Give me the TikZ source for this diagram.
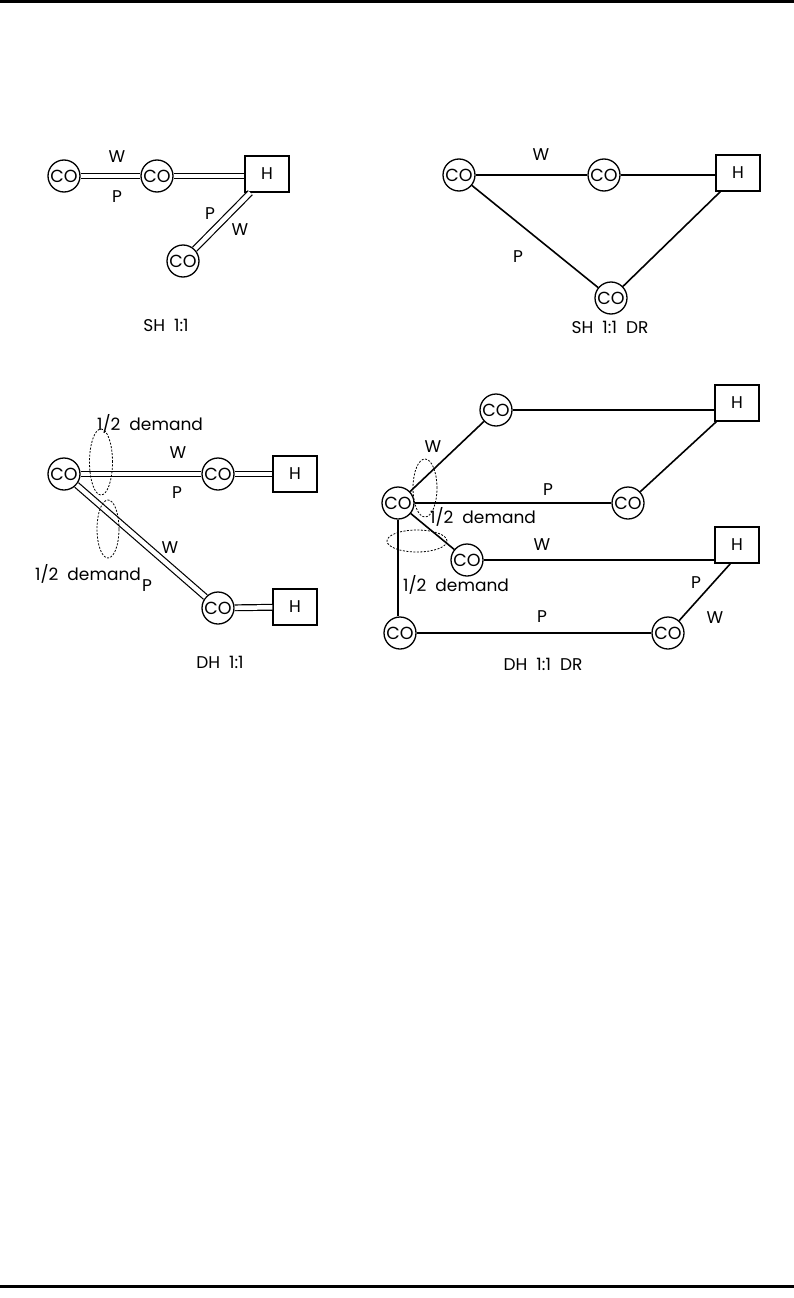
\documentclass[tikz,border=0pt]{standalone}
\usepackage{fontspec}
\setmainfont{Poppins}
\usetikzlibrary{positioning}
\newcommand{\diagfont}{\fontsize{17}{17}\selectfont}
\tikzset{
  co/.style={circle, draw, line width=1.3pt, minimum size=32pt, inner sep=0pt, font=\fontsize{17.5}{17.5}\selectfont},
  hub/.style={rectangle, draw, line width=1.3pt, minimum width=44pt, minimum height=36pt, font=\diagfont},
  dbl/.style={double, double distance=4.5pt, line width=1.2pt},
  sgl/.style={line width=1.6pt},
  demand/.style={line width=0.8pt, dash pattern=on 2pt off 1.5pt},
  lbl/.style={font=\diagfont, inner sep=1pt},
  captext/.style={font=\diagfont},
  rulebar/.style={line width=3pt}
}
\begin{document}
\begin{tikzpicture}[x=1pt, y=-1pt]
  \useasboundingbox (0,0) rectangle (794,1298);
  \draw[rulebar] (0,1.5) -- (794,1.5);
  \draw[rulebar] (0,1286.5) -- (794,1286.5);
  % SH 1:1
  \node[co] (sa1) at (64,176) {CO};
  \node[co] (sa2) at (157,176) {CO};
  \node[hub] (sah) at (267,174) {H};
  \node[co] (sa3) at (183,261) {CO};
  \draw[dbl] (sa1) -- (sa2);
  \draw[dbl] (sa2) -- (sa2 -| sah.west);
  \draw[dbl] (sa3) -- ([xshift=6pt]sah.south west);
  \node[lbl] (saw1) at (117,157) {W};
  \node[lbl] (sap1) at (117,197) {P};
  \node[lbl] (sap2) at (210,214) {P};
  \node[lbl] (saw2) at (240,230) {W};
  \node[captext] (sacap) at (166,325) {SH\ \ 1:1};
  % SH 1:1 DR
  \node[co] (sb1) at (459,175) {CO};
  \node[co] (sb2) at (604,175) {CO};
  \node[hub] (sbh) at (738,173) {H};
  \node[co] (sb3) at (611,298) {CO};
  \draw[sgl] (sb1) -- (sb2);
  \draw[sgl] (sb2) -- (sb2 -| sbh.west);
  \draw[sgl] (sb1) -- (sb3);
  \draw[sgl] (sb3) -- ([xshift=5pt]sbh.south west);
  \node[lbl] (sbw) at (541,155) {W};
  \node[lbl] (sbp) at (518,257) {P};
  \node[captext] (sbcap) at (610,327) {SH\ \ 1:1\ \ DR};
  % DH 1:1
  \node[co] (da1) at (64,474) {CO};
  \node[co] (da2) at (218,474) {CO};
  \node[hub] (dah1) at (295,474) {H};
  \node[co] (da3) at (218,608) {CO};
  \node[hub] (dah2) at (295,607) {H};
  \draw[dbl] (da1) -- (da2);
  \draw[dbl] (da2) -- (dah1);
  \draw[dbl] (da1) -- (da3);
  \draw[dbl] (da3) -- (dah2);
  \draw[demand] (101,462) ellipse [x radius=11.5pt, y radius=33pt];
  \draw[demand] (108,529) ellipse [x radius=11pt, y radius=29pt];
  \node[lbl] (dad1) at (150,424) {1/2\ \ demand};
  \node[lbl] (daw1) at (178,453) {W};
  \node[lbl] (dap1) at (177,493) {P};
  \node[lbl] (daw2) at (170,548) {W};
  \node[lbl] (dad2) at (88,574) {1/2\ \ demand};
  \node[lbl] (dap2) at (147,586) {P};
  \node[captext] (dacap) at (220,662) {DH\ \ 1:1};
  % DH 1:1 DR
  \node[co] (db1) at (398,503) {CO};
  \node[co] (db2) at (496,410) {CO};
  \node[hub] (dbh1) at (737,403) {H};
  \node[co] (db3) at (628,503) {CO};
  \node[co] (db4) at (467,560) {CO};
  \node[hub] (dbh2) at (737,545) {H};
  \node[co] (db5) at (400,633) {CO};
  \node[co] (db6) at (668,633) {CO};
  \draw[sgl] (db1) -- (db2);
  \draw[sgl] (db2) -- (db2 -| dbh1.west);
  \draw[sgl] (db3) -- ([xshift=2pt]dbh1.south west);
  \draw[sgl] (db1) -- (db3);
  \draw[sgl] (db1) -- (db4);
  \draw[sgl] (db4) -- (db4 -| dbh2.west);
  \draw[sgl] (db6) -- ([xshift=16pt]dbh2.south west);
  \draw[sgl] (db1.south) -- (db1.south |- db5.north);
  \draw[sgl] (db5) -- (db6);
  \draw[demand] (425,488) ellipse [x radius=12pt, y radius=29pt];
  \draw[demand] (417,541) ellipse [x radius=30pt, y radius=11pt];
  \node[lbl] (dbw1) at (433,447) {W};
  \node[lbl] (dbp1) at (548,490) {P};
  \node[lbl] (dbd1) at (483,517) {1/2\ \ demand};
  \node[lbl] (dbw2) at (542,545) {W};
  \node[lbl] (dbd2) at (456,585) {1/2\ \ demand};
  \node[lbl] (dbp2) at (696,583) {P};
  \node[lbl] (dbw3) at (715,618) {W};
  \node[lbl] (dbp3) at (542,617) {P};
  \node[captext] (dbcap) at (543,664) {DH\ \ 1:1\ \ DR};
\end{tikzpicture}
\end{document}
